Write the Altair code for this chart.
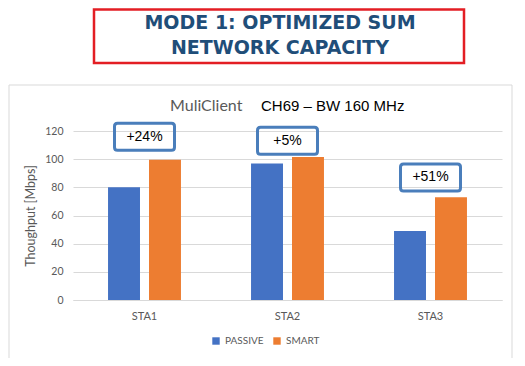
import altair as alt
import pandas as pd

stations = ["STA1", "STA2", "STA3"]
modes = ["PASSIVE", "SMART"]
passive = [80, 97, 49]
smart = [99.5, 101.5, 73]
gain_labels = ["+24%", "+5%", "+51%"]
gain_y = [116, 113, 87]

rows = []
for i, s in enumerate(stations):
    rows.append({"sta": s, "mode": "PASSIVE", "v": passive[i]})
    rows.append({"sta": s, "mode": "SMART", "v": smart[i]})
df = pd.DataFrame(rows)
ann = pd.DataFrame({"sta": stations, "lab": gain_labels, "v": gain_y})
one = pd.DataFrame({"a": [0]})

W, H = 429, 169
grey = "#595959"

xaxis = alt.Axis(labelAngle=0, ticks=False, domainColor="#D9D9D9",
                 labelColor=grey, labelFontSize=11, labelFont="Lato", labelPadding=10)
yaxis = alt.Axis(values=[0, 20, 40, 60, 80, 100, 120], tickCount=7, domain=False,
                 ticks=False, gridColor="#D9D9D9", labelColor=grey,
                 labelFontSize=10.5, labelFont="Lato", labelPadding=10,
                 labelOverlap=False,
                 titleColor=grey, titleFontSize=12.5, titleFont="Lato",
                 titleFontWeight="normal", titlePadding=7)
xscale = alt.Scale(paddingInner=0.49, paddingOuter=0.245)
yscale = alt.Scale(domain=[0, 120], nice=False)


def xenc():
    return alt.X("sta:N", sort=stations, title=None, scale=xscale, axis=xaxis)


def yenc():
    return alt.Y("v:Q", title="Thoughput [Mbps]", scale=yscale, axis=yaxis)


frame = alt.Chart(one).mark_rect(fill="transparent", stroke="#D9D9D9", strokeWidth=1).encode(
    x=alt.value(-64), x2=alt.value(439), y=alt.value(-46), y2=alt.value(228))

tbox = alt.Chart(one).mark_rect(fill="white", stroke="#E31E24", strokeWidth=2.5).encode(
    x=alt.value(21), x2=alt.value(391), y=alt.value(-121.5), y2=alt.value(-68))

title1 = alt.Chart(one).mark_text(
    text="MODE 1: OPTIMIZED SUM", font="DejaVu Sans", fontWeight="bold", fontSize=19,
    color="#1F4E79", align="center", baseline="middle").encode(x=alt.value(207), y=alt.value(-108))
title2 = alt.Chart(one).mark_text(
    text="NETWORK CAPACITY", font="DejaVu Sans", fontWeight="bold", fontSize=19,
    color="#1F4E79", align="center", baseline="middle").encode(x=alt.value(207), y=alt.value(-83))

sub1 = alt.Chart(one).mark_text(text="MuliClient", font="Lato", fontSize=16, color=grey,
                                align="left", baseline="middle").encode(
    x=alt.value(97), y=alt.value(-25))
sub2 = alt.Chart(one).mark_text(text="CH69 – BW 160 MHz", font="Liberation Sans", fontSize=15,
                                color="#000000", align="left", baseline="middle").encode(
    x=alt.value(188), y=alt.value(-25))

bars = alt.Chart(df).mark_bar().encode(
    x=xenc(), y=yenc(),
    xOffset=alt.XOffset("mode:N", sort=modes, scale=alt.Scale(paddingInner=0.22)),
    color=alt.Color("mode:N", sort=modes,
                    scale=alt.Scale(domain=modes, range=["#4472C4", "#ED7D31"]),
                    legend=alt.Legend(title=None, orient="none", direction="horizontal",
                                      legendX=138, legendY=205, symbolType="square",
                                      symbolSize=55, labelColor=grey, labelFontSize=10,
                                      labelFont="Lato", columnPadding=8, labelOffset=4,
                                      symbolStrokeWidth=0)))

boxpath = ("M-0.9,-0.45L0.9,-0.45Q1,-0.45 1,-0.35L1,0.35Q1,0.45 0.9,0.45"
           "L-0.9,0.45Q-1,0.45 -1,0.35L-1,-0.35Q-1,-0.45 -0.9,-0.45Z")
boxes = alt.Chart(ann).mark_point(shape=boxpath, size=3600, filled=False,
                                  stroke="#4A7EBB", strokeWidth=3, opacity=1).encode(
    x=xenc(), y=yenc())
labels = alt.Chart(ann).mark_text(font="Liberation Sans", fontSize=14, color="#000000",
                                  baseline="middle").encode(
    x=xenc(), y=yenc(), text="lab:N")

chart = alt.layer(frame, tbox, title1, title2, sub1, sub2, bars, boxes, labels).properties(
    width=W, height=H,
    autosize=alt.AutoSizeParams(type="none"),
    padding={"left": 65, "top": 123, "right": 15, "bottom": 58},
    background="white",
).configure_view(stroke=None)

chart.save("out.html", embed_options={"renderer": "svg", "actions": False})
